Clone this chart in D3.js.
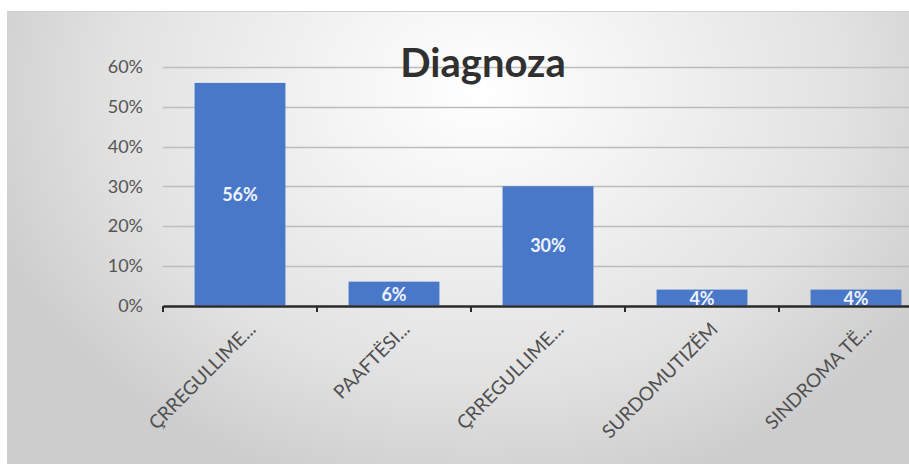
<!DOCTYPE html>
<html>
<head>
<meta charset="utf-8">
<script src="https://cdn.jsdelivr.net/npm/d3@7"></script>
<style>
  html, body { margin: 0; padding: 0; background: #fff; }
  svg { display: block; }
</style>
</head>
<body>
<svg id="chart" width="909" height="464"></svg>
<script>
// Diagnosis distribution (share of cases)
const categories = ["ÇRREGULLIME...", "PAAFTËSI...", "ÇRREGULLIME... ", "SURDOMUTIZËM", "SINDROMA TË..."];
const values = [0.56, 0.06, 0.30, 0.04, 0.04];
const yTicks = [0, 0.1, 0.2, 0.3, 0.4, 0.5, 0.6];
const chartTitle = "Diagnoza";

(function () {
  const svg = d3.select("#chart");
  const W = 909, H = 464;
  const font = "Lato, 'Open Sans', sans-serif";

  // chart area background: soft gray with a lighter centre
  const defs = svg.append("defs");
  const grad = defs.append("radialGradient")
    .attr("id", "bg").attr("gradientUnits", "userSpaceOnUse")
    .attr("cx", 480).attr("cy", 90).attr("r", 520)
    .attr("gradientTransform", "translate(480,90) scale(1,0.8) translate(-480,-90)");
  grad.append("stop").attr("offset", "0%").attr("stop-color", "#ffffff");
  grad.append("stop").attr("offset", "30%").attr("stop-color", "#f3f3f3");
  grad.append("stop").attr("offset", "70%").attr("stop-color", "#e2e2e2");
  grad.append("stop").attr("offset", "100%").attr("stop-color", "#cdcdcd");

  svg.append("rect").attr("x", 7).attr("y", 11).attr("width", W - 7).attr("height", H - 11)
    .attr("fill", "url(#bg)");
  svg.append("line").attr("x1", 7).attr("x2", W).attr("y1", 11.5).attr("y2", 11.5)
    .attr("stroke", "#cfcfcf").attr("stroke-width", 1);

  const plotLeft = 163, plotRight = 933, plotTop = 67, plotBottom = 305.5;

  const x = d3.scaleBand().domain(categories).range([plotLeft, plotRight]).paddingInner(0.41).paddingOuter(0.205);
  const xEdges = d3.scaleBand().domain(categories).range([plotLeft, plotRight]);
  const y = d3.scaleLinear().domain([0, 0.6]).range([plotBottom, plotTop]);

  // horizontal gridlines
  svg.append("g").selectAll("line").data(yTicks.filter(d => d > 0)).join("line")
    .attr("x1", plotLeft).attr("x2", W)
    .attr("y1", d => Math.round(y(d)) + 0.5).attr("y2", d => Math.round(y(d)) + 0.5)
    .attr("stroke", "#bdbdbd").attr("stroke-width", 1.5);

  // y axis labels
  svg.append("g").selectAll("text").data(yTicks).join("text")
    .attr("x", 143).attr("y", d => y(d)).attr("dy", "0.35em")
    .attr("text-anchor", "end")
    .attr("font-family", font).attr("font-size", 18)
    .attr("fill", "#555555")
    .text(d => d3.format(".0%")(d));

  // title
  svg.append("text").attr("x", 483).attr("y", 77).attr("text-anchor", "middle")
    .attr("font-family", font).attr("font-weight", 700)
    .attr("font-size", 40).attr("fill", "#303030").text(chartTitle);

  // bars
  svg.append("g").selectAll("rect").data(values).join("rect")
    .attr("x", (d, i) => x(categories[i])).attr("width", x.bandwidth())
    .attr("y", d => y(d)).attr("height", d => y(0) - y(d))
    .attr("fill", "#4a78c8");

  // value labels
  svg.append("g").selectAll("text").data(values).join("text")
    .attr("x", (d, i) => x(categories[i]) + x.bandwidth() / 2)
    .attr("y", d => (y(d) + y(0)) / 2 + (d < 0.08 ? 1 : 0)).attr("dy", "0.35em")
    .attr("text-anchor", "middle")
    .attr("font-family", font).attr("font-weight", 700)
    .attr("font-size", 18).attr("fill", "#eef3ff")
    .text(d => d3.format(".0%")(d));

  // x axis baseline with category boundary ticks
  const xAxis = d3.axisBottom(xEdges).tickSize(0).tickFormat("");
  const gx = svg.append("g").attr("transform", `translate(0,${plotBottom + 0.5})`).call(xAxis);
  gx.select(".domain").attr("stroke", "#2a2a2a").attr("stroke-width", 2.5);
  const edges = categories.map(c => xEdges(c));
  gx.selectAll(".edge").data(edges).join("line").attr("class", "edge")
    .attr("x1", d => d).attr("x2", d => d).attr("y1", 0).attr("y2", 6)
    .attr("stroke", "#2a2a2a").attr("stroke-width", 2);

  // rotated category labels
  svg.append("g").selectAll("text").data(categories).join("text")
    .attr("transform", c => `translate(${x(c) + x.bandwidth() / 2 + 17},${plotBottom + 25}) rotate(-45)`)
    .attr("text-anchor", "end")
    .attr("font-family", font).attr("font-size", 19)
    .attr("fill", "#505050")
    .text(c => c.trim());
})();
</script>
</body>
</html>
